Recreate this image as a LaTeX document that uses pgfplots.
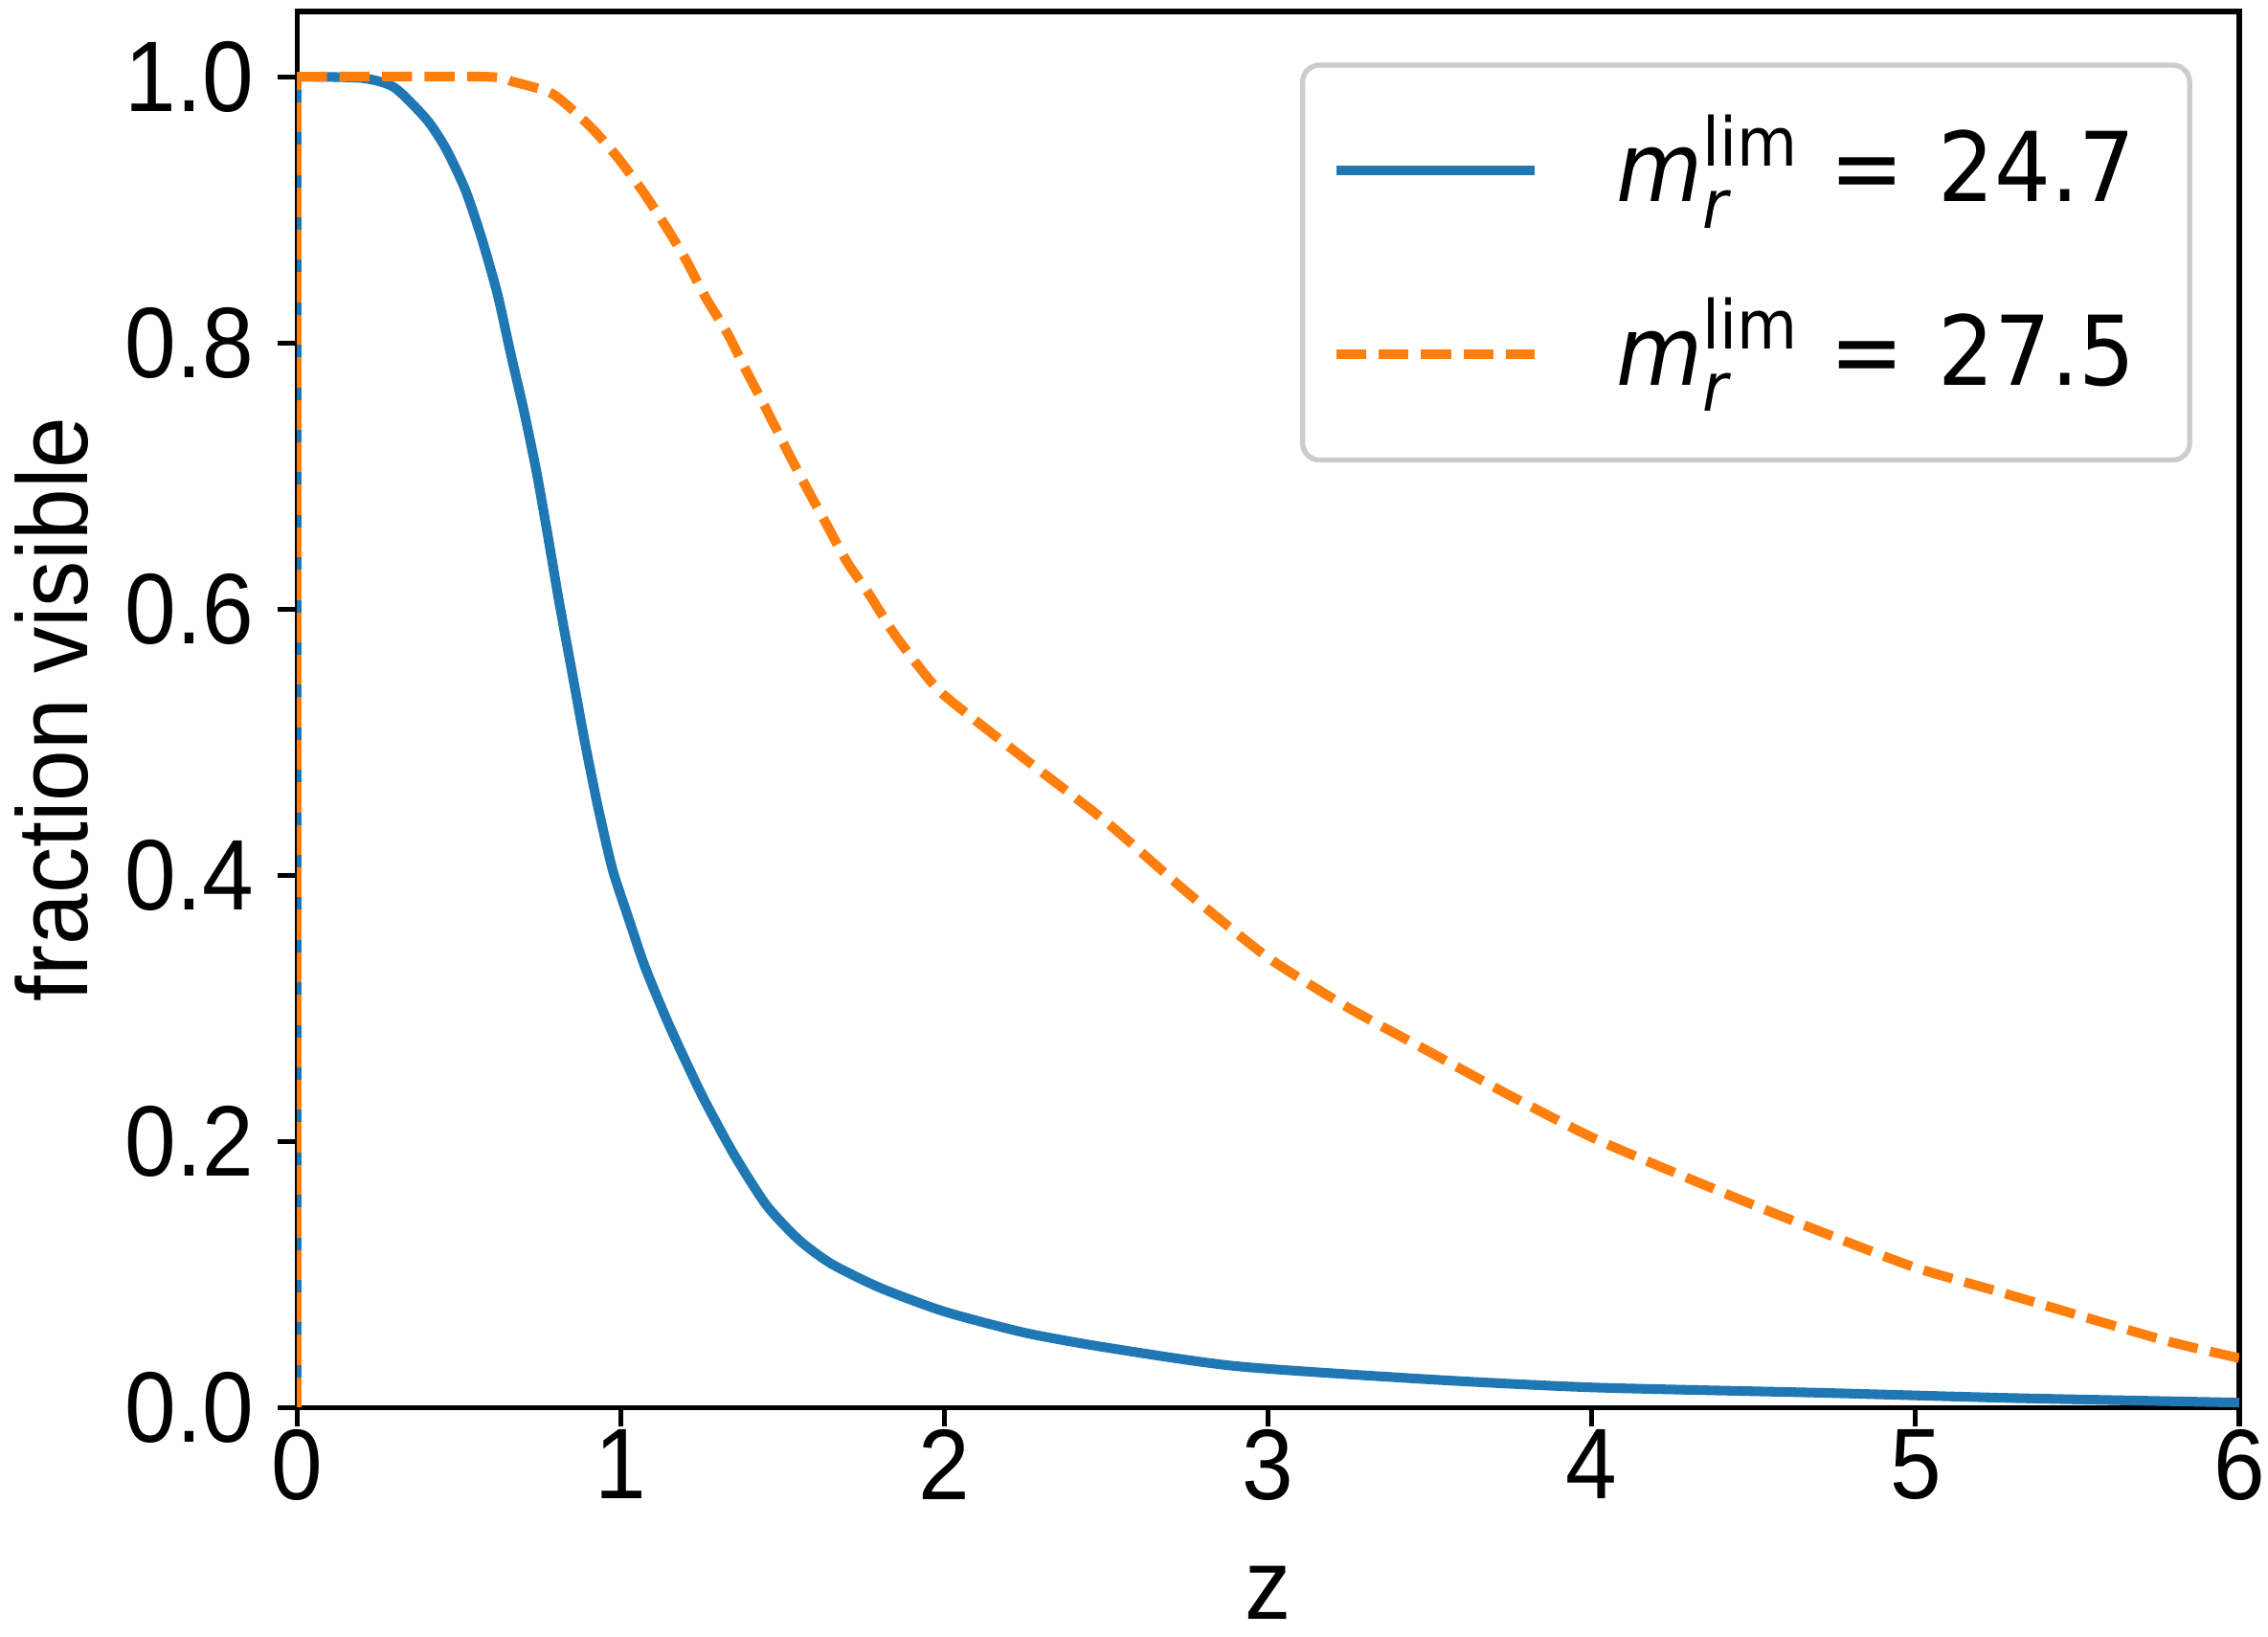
\documentclass[border=0pt]{standalone}
\usepackage{fontspec}
\setmainfont{Liberation Sans}
\newfontfamily\tickfont[FakeStretch=0.92]{Liberation Sans}
\newfontfamily\legfont[FakeStretch=0.92]{DejaVu Sans}
\usepackage{pgfplots}
\pgfplotsset{compat=1.18}
\definecolor{mplblue}{HTML}{1F77B4}
\definecolor{mplorange}{HTML}{FF7F0E}
\newcommand{\mlim}{\textit{m}\rlap{\raisebox{-4.7pt}{\fontsize{11.9}{12}\selectfont\textit{r}}}\raisebox{6.3pt}{\fontsize{11.9}{12}\selectfont lim}}
\begin{document}
\begin{tikzpicture}
\begin{axis}[
  name=ax,
  scale only axis,
  width=342.7pt, height=246.3pt,
  xmin=0, xmax=6, ymin=0, ymax=1.049,
  xtick={0,1,2,3,4,5,6},
  ytick={0,0.2,0.4,0.6,0.8,1.0},
  yticklabel style={/pgf/number format/fixed, /pgf/number format/fixed zerofill, /pgf/number format/precision=1},
  /pgf/number format/assume math mode=true,
  tick label style={font=\tickfont\fontsize{17.7}{20}\selectfont, inner sep=0pt},
  xticklabel style={anchor=north, yshift=-0.4pt},
  yticklabel style={anchor=east, xshift=-4.1pt},
  xlabel={z}, ylabel={fraction visible},
  xlabel style={font=\tickfont\fontsize{17.7}{20}\selectfont, at={(axis description cs:0.5,0)}, anchor=base, yshift=-37.4pt, inner sep=0pt},
  ylabel style={font=\tickfont\fontsize{17.7}{20}\selectfont, at={(axis description cs:-0.108,0.5)}, anchor=base, inner sep=0pt},
  xtick pos=bottom, ytick pos=left,
  tick align=outside, major tick length=3.4pt,
  every tick/.style={black, line width=0.85pt},
  axis line style={line width=0.85pt},
  legend style={at={(rel axis cs:1,1)}, xshift=-8.3pt, yshift=-9pt, anchor=north east,
    draw=black!20, rounded corners=3pt, line width=0.9pt,
    font=\legfont\fontsize{17}{20}\selectfont, inner xsep=0pt, inner ysep=2.45pt,
    row sep=0pt, column sep=0pt, nodes={inner sep=0pt, text height=21.6pt, text depth=10.8pt}},
  legend cell align=left,
  legend image code/.code={\path[draw=none] (0pt,0pt) -- (55.4pt,0pt); \draw[#1] (5.9pt,0pt) -- (41pt,0pt);},
]
\addplot[mplblue, line width=1.7pt, forget plot] coordinates {(0,0) (0,1)};
\addplot[mplorange, line width=1.7pt, dash pattern=on 5.3pt off 2.2pt, forget plot] coordinates {(0,0) (0,1)};
\addplot[mplblue, line width=1.7pt, smooth, tension=0.4] coordinates {
(0,1) (0.2,0.999) (0.3,0.992) (0.4,0.968) (0.46,0.946) (0.52,0.915) (0.57,0.879)
(0.62,0.836) (0.66,0.792) (0.70,0.75) (0.74,0.703) (0.775,0.655) (0.81,0.605) (0.85,0.552)
(0.89,0.499) (0.93,0.451) (0.975,0.404) (1.025,0.367) (1.075,0.331) (1.15,0.287) (1.25,0.235)
(1.35,0.19) (1.45,0.152) (1.55,0.126) (1.65,0.108) (1.8,0.09) (2.0,0.072) (2.25,0.056)
(2.5,0.045) (2.9,0.031) (3.5,0.021) (4,0.015) (4.7,0.011) (5.3,0.007) (6,0.0036)
};
\addlegendentry{\mlim\hspace{5.7pt}=\hspace{6pt}24.7\hspace*{9.5pt}}
\addplot[mplorange, line width=1.7pt, dash pattern=on 5.3pt off 2.2pt, smooth, tension=0.4] coordinates {
(0,1) (0.58,1.0) (0.67,0.996) (0.79,0.987) (0.9,0.964) (0.985,0.941) (1.065,0.915)
(1.133,0.89) (1.2,0.863) (1.26,0.835) (1.33,0.807) (1.39,0.778) (1.45,0.75) (1.51,0.721)
(1.57,0.693) (1.635,0.664) (1.7,0.635) (1.765,0.612) (1.84,0.583) (1.92,0.557) (2.0,0.535)
(2.25,0.487) (2.5,0.44) (2.75,0.387) (3.0,0.338) (3.25,0.3) (3.5,0.267) (3.75,0.234)
(4.0,0.203) (4.25,0.177) (4.5,0.152) (4.75,0.128) (5.0,0.105) (5.27,0.086) (5.52,0.068)
(5.79,0.049) (6.0,0.037)
};
\addlegendentry{\mlim\hspace{5.7pt}=\hspace{6pt}27.5\hspace*{9.5pt}}
\end{axis}
\path ([shift={(-52.4pt,-40.5pt)}]ax.south west) rectangle ([shift={(5.07pt,2.03pt)}]ax.north east);
\end{tikzpicture}
\end{document}
